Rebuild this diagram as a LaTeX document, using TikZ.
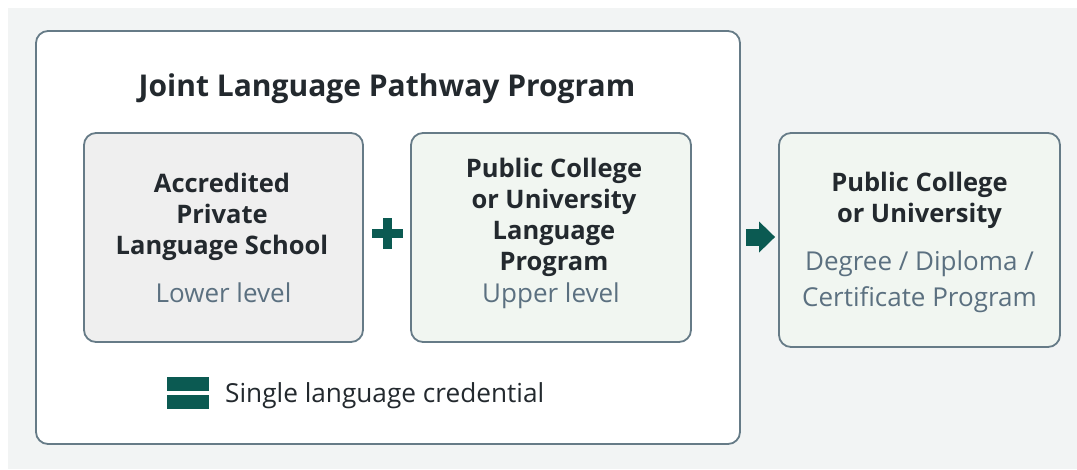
\documentclass[tikz,border=0pt]{standalone}
\usepackage{fontspec}
\setmainfont{Open Sans}
\usetikzlibrary{arrows.meta,calc}
\definecolor{bordc}{HTML}{667B87}
\definecolor{teal}{HTML}{0B5A52}
\definecolor{txt}{HTML}{23292E}
\definecolor{subtxt}{HTML}{5B7080}
\definecolor{bgc}{HTML}{F2F4F4}
\definecolor{greyfill}{HTML}{EFEFEF}
\definecolor{greenfill}{HTML}{F1F6F1}
\tikzset{
  box/.style={draw=bordc, line width=1.8pt, rounded corners=12pt, inner sep=0pt},
  head/.style={font=\fontsize{25.5}{31}\selectfont\bfseries, text=txt, align=center, anchor=base, inner sep=0pt},
  sub/.style={font=\fontsize{26}{36}\selectfont, text=subtxt, align=center, anchor=base, inner sep=0pt},
}
\begin{document}
\begin{tikzpicture}[x=1pt,y=-1pt]
\useasboundingbox (0,0) rectangle (1077,469);
\fill[white] (0,0) rectangle (1077,469);
\fill[bgc] (8,8) rectangle (1077,469);
% outer box
\node[box, fill=white, minimum width=704pt, minimum height=413pt] (big) at (388,237.5) {};
\node[font=\fontsize{30}{36}\selectfont\bfseries, text=txt, anchor=base, inner sep=0pt] (title) at (387,96) {Joint Language Pathway Program};
% box A
\node[box, fill=greyfill, minimum width=279pt, minimum height=209pt] (A) at (223.5,237.5) {};
\node[head] (At) at (222,254) {Accredited\\Private\\Language School};
\node[sub] (As) at (223.5,302) {Lower level};
% box B
\node[box, fill=greenfill, minimum width=280pt, minimum height=209pt] (B) at (551,237.5) {};
\node[head] (Bt) at (554,270) {Public College\\or University\\Language\\Program};
\node[sub] (Bs) at (551,302) {Upper level};
% box C
\node[box, fill=greenfill, minimum width=281pt, minimum height=214pt] (C) at (919.5,240) {};
\node[head] (Ct) at (919.5,222) {Public College\\or University};
\node[sub] (Cs) at (919.5,306) {Degree / Diploma /\\Certificate Program};
% plus
\fill[teal] (387.5-15.5,233.5-4.8) rectangle (387.5+15.5,233.5+4.8);
\fill[teal] (387.5-4.8,233.5-15.5) rectangle (387.5+4.8,233.5+15.5);
% arrow
\draw[teal, line width=17pt, -{Triangle[length=16pt,width=30pt]}, shorten <=5pt, shorten >=3pt] (big.east |- 0,237) -- (C.west |- 0,237);
% legend
\fill[teal] (167,377) rectangle (209,391);
\fill[teal] (167,395) rectangle (209,409);
\node[anchor=base west, inner sep=0pt, font=\fontsize{26.2}{30}\selectfont, text=txt] (leg) at (225,402) {Single language credential};
\end{tikzpicture}
\end{document}
